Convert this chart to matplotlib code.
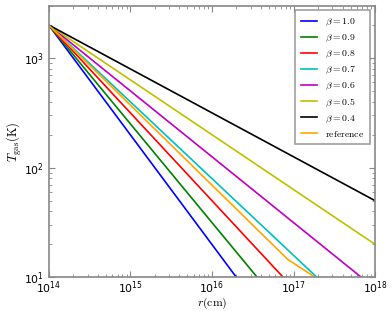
import matplotlib
matplotlib.use('Agg')
import matplotlib.pyplot as plt

# Extrémités (r en cm, T en K)
betas = ['1.0', '0.9', '0.8', '0.7', '0.6', '0.5', '0.4']
couleurs = ['b', 'g', 'r', 'c', 'm', 'y', 'k']
r_debut = 1e14
T_debut = 2000
r_fin = [2.0e16, 3.6e16, 7.5e16, 1.94e17, 6.8e17, 1e18, 1e18]
T_fin = [10, 10, 10, 10, 10, 20, 50]

# Courbe de référence (avec un coude)
r_ref = [1e14, 8.5e16, 1.85e17]
T_ref = [2000, 14.6, 10]

plt.rcParams['mathtext.fontset'] = 'cm'
plt.rcParams['xtick.direction'] = 'in'
plt.rcParams['ytick.direction'] = 'in'

fig = plt.figure(figsize=(3.92, 3.11), dpi=100)
ax = fig.add_axes([0.124, 0.108, 0.833, 0.874])

for b, c, rf, tf in zip(betas, couleurs, r_fin, T_fin):
    ax.plot([r_debut, rf], [T_debut, tf], color=c, lw=1.2, label=r'$\beta = %s$' % b)
ax.plot(r_ref, T_ref, color='orange', lw=1.2, label=r'$\rm reference$')

ax.set_xscale('log')
ax.set_yscale('log')
ax.set_xlim(1e14, 1e18)
ax.set_ylim(10, 3000)

for s in ax.spines.values():
    s.set_color('#888888')
    s.set_linewidth(1.2)
ax.tick_params(which='both', top=True, right=True, color='#888888', labelsize=7.8)
ax.tick_params(which='major', length=4)
ax.tick_params(which='minor', length=2)
ax.xaxis.set_tick_params(pad=1.5)
for lab in ax.get_xticklabels() + ax.get_yticklabels():
    lab.set_math_fontfamily('dejavusans')

ax.set_xlabel(r'$r({\rm cm})$', fontsize=8.5, labelpad=0)
ax.set_ylabel(r'$T_{\rm gas}({\rm K})$', fontsize=9, labelpad=0)

leg = ax.legend(loc='upper right', fontsize=7, handlelength=1.7, labelspacing=0.4,
                fancybox=False, borderpad=0.6)
leg.get_frame().set_edgecolor('#888888')
leg.get_frame().set_linewidth(1.2)

fig.savefig('out.png', dpi=100)
